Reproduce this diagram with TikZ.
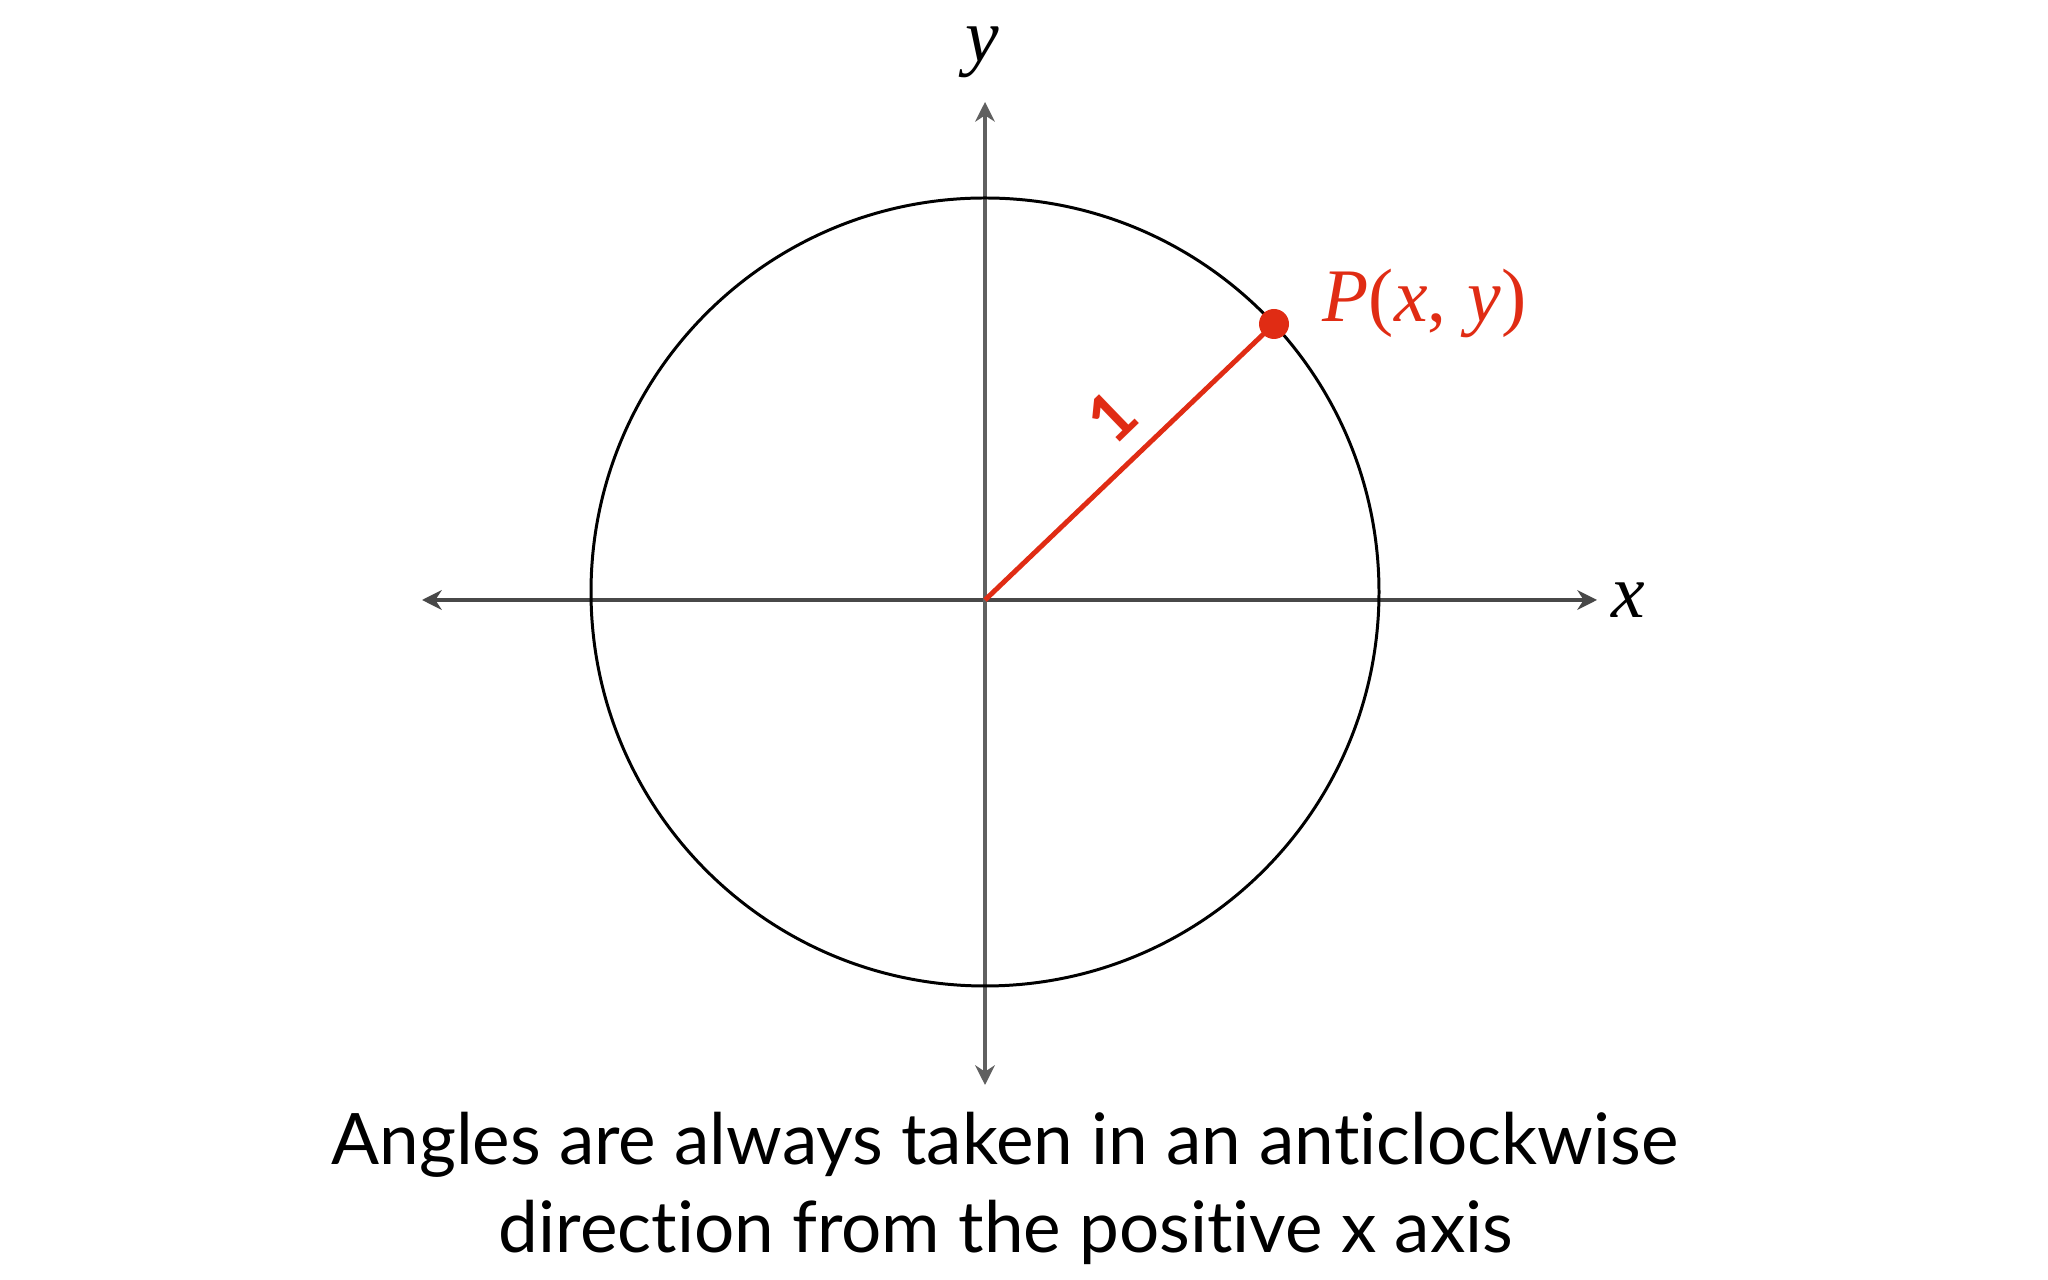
\documentclass[tikz,border=0pt]{standalone}
\usepackage{fontspec}
\setmainfont{Liberation Serif}
\newfontfamily\capfont[Ligatures=NoCommon]{Lato}
\usepackage{xcolor}
\usetikzlibrary{positioning, arrows.meta}

\definecolor{pointred}{RGB}{224,44,20}
\definecolor{xaxisgray}{RGB}{72,72,72}
\definecolor{yaxisgray}{RGB}{96,96,96}

\begin{document}
\begin{tikzpicture}[x=0.01cm, y=-0.01cm, >={Stealth[length=5.6pt, width=5.6pt]},
    axis/.style={->, line width=1.4pt},
    varlabel/.style={font=\fontsize{21.5}{25}\selectfont, inner sep=0pt},
    capline/.style={font=\capfont\fontsize{20.2}{25}\selectfont, inner sep=0pt, anchor=base}]
    \useasboundingbox (0,0) rectangle (2048,1280);

    % axes
    \coordinate (O) at (985,600);
    \coordinate (xneg) at (422,600);
    \coordinate (xpos) at (1597,600);
    \coordinate (ytop) at (985,102);
    \coordinate (ybot) at (985,1085);
    \draw[axis, xaxisgray] (O) -- (xpos);
    \draw[axis, xaxisgray] (O) -- (xneg);
    \draw[axis, yaxisgray] (O) -- (ytop);
    \draw[axis, yaxisgray] (O) -- (ybot);
    \node[varlabel] (xlab) [right=4pt of xpos] {\textit{x}};
    \node[varlabel] (ylab) at (982,52) {\textit{y}};

    % unit circle
    \coordinate (C) at (985,592);
    \draw[line width=0.85pt] (C) circle[radius=394];

    % point and radius
    \node[circle, fill=pointred, minimum size=0.3cm, inner sep=0pt] (P) at (1274,324) {};
    \draw[pointred, line width=1.4pt] (O) -- (P.center);
    \node[pointred, inner sep=0pt, rotate=44, font=\capfont\bfseries\fontsize{19}{22}\selectfont] (one) at (1112,417) {1};
    \node[varlabel, pointred, anchor=west] (plab) at (1322,303) {\textit{P}(\textit{x},\;\textit{y})};

    % caption
    \node[capline] (cap1) at (1005,1165) {Angles are always taken in an anticlockwise};
    \node[capline] (cap2) at (1006,1253) {direction from the positive x axis};
\end{tikzpicture}
\end{document}
